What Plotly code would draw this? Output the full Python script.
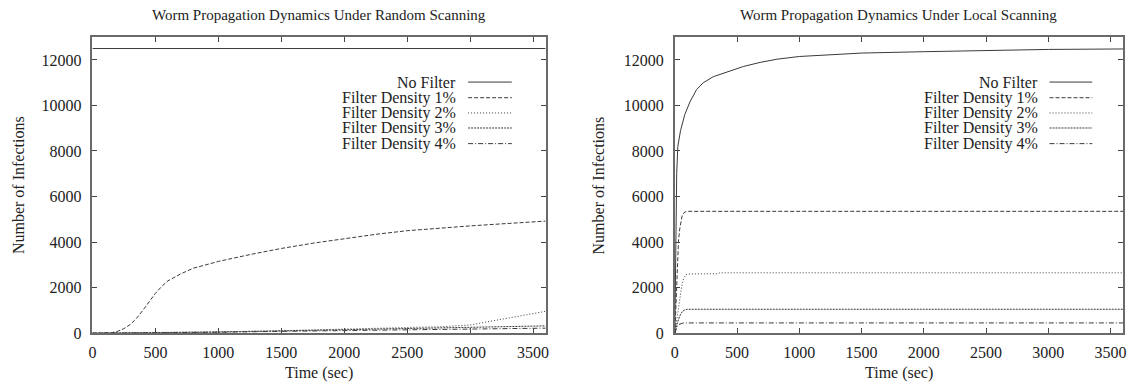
import plotly.graph_objects as go

W, H = 1133, 392

# ---------------- data ----------------
series_names = ["No Filter", "Filter Density 1%", "Filter Density 2%",
                "Filter Density 3%", "Filter Density 4%"]

# Random scanning
rand_nf_t = [0, 3600]
rand_nf_v = [12500, 12500]
rand_1_t = [0, 100, 150, 200, 250, 300, 350, 400, 450, 500, 550, 600, 700, 800,
            900, 1000, 1250, 1500, 1750, 2000, 2250, 2500, 2750, 3000, 3250, 3600]
rand_1_v = [0, 5, 20, 80, 200, 380, 650, 1000, 1400, 1750, 2050, 2300, 2600, 2850,
            3000, 3150, 3450, 3720, 3950, 4150, 4340, 4500, 4620, 4710, 4800, 4920]
rand_2_t = [0, 500, 1000, 1500, 2000, 2500, 2800, 3000, 3200, 3400, 3600]
rand_2_v = [0, 20, 60, 110, 170, 230, 290, 360, 550, 750, 960]
rand_3_t = [0, 500, 1000, 1500, 2000, 2500, 3000, 3600]
rand_3_v = [0, 15, 50, 100, 160, 220, 280, 320]
rand_4_t = [0, 500, 1000, 1500, 2000, 2500, 3000, 3600]
rand_4_v = [0, 10, 40, 80, 120, 160, 190, 220]

# Local scanning
loc_nf_t = [0, 5, 10, 15, 24, 46, 80, 121, 175, 227, 308, 417, 550, 685, 820,
            1000, 1500, 2000, 2500, 3000, 3600]
loc_nf_v = [0, 3000, 5500, 7000, 8200, 8900, 9600, 10150, 10700, 10990, 11260,
            11470, 11710, 11890, 12030, 12150, 12300, 12360, 12420, 12460, 12480]
loc_1_t = [0, 10, 20, 30, 40, 50, 60, 80, 100, 3600]
loc_1_v = [0, 1500, 3000, 4100, 4600, 5000, 5200, 5320, 5350, 5350]
loc_2_t = [0, 20, 40, 55, 70, 90, 120, 340, 360, 3600]
loc_2_v = [0, 800, 1600, 2050, 2400, 2580, 2600, 2610, 2650, 2650]
loc_3_t = [0, 20, 40, 60, 80, 100, 3600]
loc_3_v = [0, 450, 760, 950, 1020, 1050, 1050]
loc_4_t = [0, 15, 30, 50, 70, 3600]
loc_4_v = [0, 250, 380, 430, 450, 450]

x_ticks = [0, 500, 1000, 1500, 2000, 2500, 3000, 3500]
x_ticktext = ["0", "500", "1000", "1500", "2000", "2500", "3000", "3500"]
y_ticks = [0, 2000, 4000, 6000, 8000, 10000, 12000]
y_ticktext = ["0", "2000", "4000", "6000", "8000", "10000", "12000"]

titles = ["Worm Propagation Dynamics Under Random Scanning",
          "Worm Propagation Dynamics Under Local Scanning"]
x_title = "Time (sec)"
y_title = "Number of Infections"

# ---------------- styles ----------------
FONT = "Liberation Serif"
TXT = "#222222"
LINE_COL = "#3a3a3a"
AX_COL = "#6a6a6a"
dashes = ["solid", "4px,2px", "1px,2px", "2px,1px", "5px,2px,1px,2px"]

fig = go.Figure()

panels = [
    ("x", "y", [(rand_nf_t, rand_nf_v), (rand_1_t, rand_1_v), (rand_2_t, rand_2_v),
                (rand_3_t, rand_3_v), (rand_4_t, rand_4_v)]),
    ("x2", "y2", [(loc_nf_t, loc_nf_v), (loc_1_t, loc_1_v), (loc_2_t, loc_2_v),
                  (loc_3_t, loc_3_v), (loc_4_t, loc_4_v)]),
]
for xa, ya, data in panels:
    for i, (t, v) in enumerate(data):
        fig.add_trace(go.Scatter(x=t, y=v, mode="lines", name=series_names[i],
                                 xaxis=xa, yaxis=ya, showlegend=False,
                                 line=dict(color=LINE_COL, width=1, dash=dashes[i])))

# plot area pixel bounds
left_px = [(89, 545), (675, 1126)]
top_px, bot_px = 38, 341


def px(x):
    return x / W


def py(y):
    return 1 - y / H


axis_common = dict(showline=True, linecolor=AX_COL, linewidth=1.6, mirror="ticks",
                   ticks="inside", ticklen=5, tickwidth=1.2, tickcolor="#444444",
                   showgrid=False, zeroline=False,
                   tickfont=dict(family=FONT, size=16, color=TXT))

layout_axes = {}
for k, (l, r) in enumerate(left_px):
    sfx = "" if k == 0 else str(k + 1)
    layout_axes["xaxis" + sfx] = dict(axis_common, domain=[px(l), px(r)], range=[0, 3600],
                                       tickvals=x_ticks, ticktext=x_ticktext,
                                       ticklabelstandoff=4, anchor="y" + sfx)
    layout_axes["yaxis" + sfx] = dict(axis_common, domain=[py(bot_px), py(top_px)],
                                       range=[0, 13000], tickvals=y_ticks,
                                       ticktext=y_ticktext,
                                       ticklabelstandoff=6, anchor="x" + sfx)

annotations = []
shapes = []
legend_rows = [84, 100, 115.6, 131, 147]
legend_text_right = [457, 1042]
legend_line = [(467, 511), (1052, 1095)]
ytitle_x = [14, 598]
for k, (l, r) in enumerate(left_px):
    cx = (l + r) / 2
    annotations.append(dict(text=titles[k], x=px(cx), y=py(15), xref="paper", yref="paper",
                            showarrow=False, xanchor="center", yanchor="middle",
                            font=dict(family=FONT, size=15, color=TXT)))
    annotations.append(dict(text=x_title, x=px(cx), y=py(382), xref="paper", yref="paper",
                            showarrow=False, xanchor="center", yanchor="middle",
                            font=dict(family=FONT, size=16, color=TXT)))
    annotations.append(dict(text=y_title, x=px(ytitle_x[k]), y=py((top_px + bot_px) / 2),
                            xref="paper", yref="paper", textangle=-90,
                            showarrow=False, xanchor="center", yanchor="middle",
                            font=dict(family=FONT, size=16, color=TXT)))
    for i, name in enumerate(series_names):
        annotations.append(dict(text=name, x=px(legend_text_right[k]), y=py(legend_rows[i]),
                                xref="paper", yref="paper", showarrow=False,
                                xanchor="right", yanchor="middle",
                                font=dict(family=FONT, size=16, color=TXT)))
        x0, x1 = legend_line[k]
        shapes.append(dict(type="line", xref="paper", yref="paper",
                           x0=px(x0), x1=px(x1), y0=py(legend_rows[i]), y1=py(legend_rows[i]),
                           line=dict(color=LINE_COL, width=1, dash=dashes[i])))

fig.update_layout(width=W, height=H, margin=dict(l=0, r=0, t=0, b=0),
                  font=dict(family=FONT, size=16, color=TXT),
                  paper_bgcolor="white", plot_bgcolor="white",
                  annotations=annotations, shapes=shapes, showlegend=False,
                  **layout_axes)

fig.write_html("out.html", config={"displayModeBar": False},
               post_script="document.body.style.margin='0px';document.body.style.padding='0px';")
